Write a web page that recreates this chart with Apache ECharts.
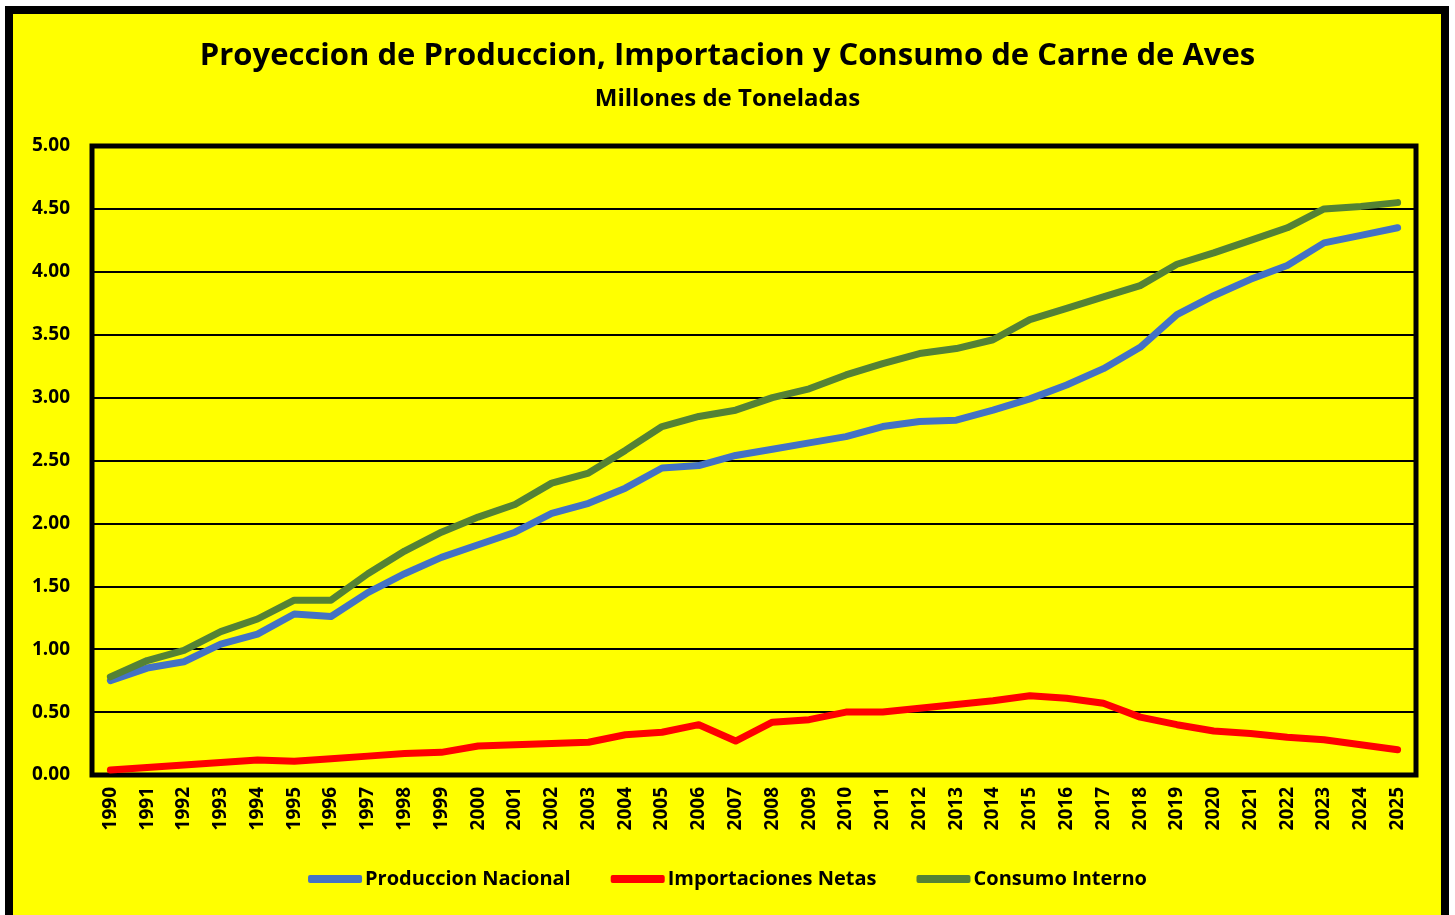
<!DOCTYPE html>
<html>
<head>
<meta charset="utf-8">
<script src="https://cdn.jsdelivr.net/npm/echarts@6/dist/echarts.min.js"></script>
<style>
  html, body { margin: 0; padding: 0; background: #fff; }
  #chart { width: 1455px; height: 915px; }
</style>
</head>
<body>
<div id="chart"></div>
<script>
const years = ['1990','1991','1992','1993','1994','1995','1996','1997','1998','1999',
  '2000','2001','2002','2003','2004','2005','2006','2007','2008','2009',
  '2010','2011','2012','2013','2014','2015','2016','2017','2018','2019',
  '2020','2021','2022','2023','2024','2025'];

const produccion = [0.75, 0.85, 0.90, 1.04, 1.12, 1.28, 1.26, 1.45, 1.60, 1.73,
  1.83, 1.93, 2.08, 2.16, 2.28, 2.44, 2.46, 2.54, 2.59, 2.64,
  2.69, 2.77, 2.81, 2.82, 2.90, 2.99, 3.10, 3.23, 3.40, 3.66,
  3.81, 3.94, 4.05, 4.23, 4.29, 4.35];

const importaciones = [0.04, 0.06, 0.08, 0.10, 0.12, 0.11, 0.13, 0.15, 0.17, 0.18,
  0.23, 0.24, 0.25, 0.26, 0.32, 0.34, 0.40, 0.27, 0.42, 0.44,
  0.50, 0.50, 0.53, 0.56, 0.59, 0.63, 0.61, 0.57, 0.46, 0.40,
  0.35, 0.33, 0.30, 0.28, 0.24, 0.20];

const consumo = [0.78, 0.91, 0.99, 1.14, 1.24, 1.39, 1.39, 1.60, 1.78, 1.93,
  2.05, 2.15, 2.32, 2.40, 2.58, 2.77, 2.85, 2.90, 3.00, 3.07,
  3.18, 3.27, 3.35, 3.39, 3.46, 3.62, 3.71, 3.80, 3.89, 4.06,
  4.15, 4.25, 4.35, 4.50, 4.52, 4.55];

const font = '"Open Sans", "Noto Sans", sans-serif';

const chart = echarts.init(document.getElementById('chart'));

function lineSeries(name, data, color) {
  return {
    name: name,
    type: 'line',
    data: data,
    symbol: 'none',
    smooth: false,
    lineStyle: { color: color, width: 7, cap: 'round', join: 'round' },
    itemStyle: { color: color },
    emphasis: { disabled: true }
  };
}

chart.setOption({
  backgroundColor: '#ffffff',
  animation: false,
  graphic: [{
    type: 'rect',
    z: -10,
    shape: { x: 9, y: 10, width: 1436, height: 920 },
    style: { fill: '#ffff00', stroke: '#000', lineWidth: 8 }
  }],
  title: [{
    text: 'Proyeccion de Produccion, Importacion y Consumo de Carne de Aves',
    left: 'center',
    top: 36,
    textStyle: { fontFamily: font, fontWeight: 'bold', fontSize: 31, color: '#000' }
  }, {
    text: 'Millones de Toneladas',
    left: 'center',
    top: 82,
    textStyle: { fontFamily: font, fontWeight: 'bold', fontSize: 24, color: '#000' }
  }],
  legend: {
    bottom: 21,
    left: 'center',
    icon: 'roundRect',
    itemWidth: 54,
    itemHeight: 8,
    itemGap: 40,
    textStyle: { fontFamily: font, fontWeight: 'bold', fontSize: 20, color: '#000', padding: [0, 0, 0, -2] },
    data: ['Produccion Nacional', 'Importaciones Netas', 'Consumo Interno']
  },
  grid: {
    left: 92,
    right: 39,
    top: 146,
    bottom: 140,
    show: true,
    borderColor: '#000',
    borderWidth: 5,
    backgroundColor: 'transparent'
  },
  xAxis: {
    type: 'category',
    data: years,
    boundaryGap: true,
    axisLine: { show: false },
    axisTick: { show: false },
    axisLabel: {
      rotate: 90,
      interval: 0,
      margin: 12,
      fontFamily: font,
      fontWeight: 'bold',
      fontSize: 19,
      color: '#000'
    }
  },
  yAxis: {
    type: 'value',
    min: 0,
    max: 5,
    interval: 0.5,
    axisLine: { show: false },
    axisTick: { show: false },
    axisLabel: {
      margin: 22,
      fontFamily: font,
      fontWeight: 'bold',
      fontSize: 19,
      color: '#000',
      formatter: v => v.toFixed(2)
    },
    splitLine: { lineStyle: { color: '#000', width: 2 } }
  },
  series: [
    lineSeries('Produccion Nacional', produccion, '#4472C4'),
    lineSeries('Importaciones Netas', importaciones, '#FF0000'),
    lineSeries('Consumo Interno', consumo, '#548235')
  ]
});
</script>
</body>
</html>
